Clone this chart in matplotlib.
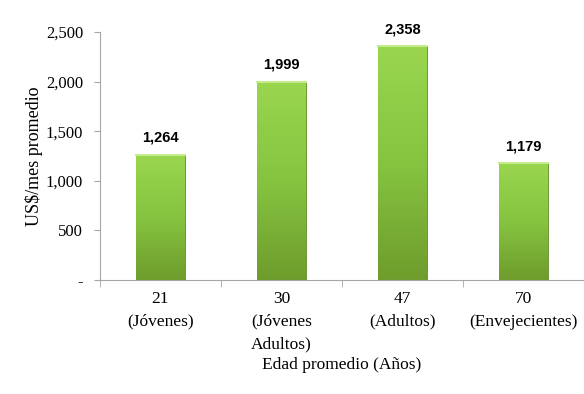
import matplotlib

matplotlib.use("Agg")
import matplotlib.pyplot as plt
import numpy as np
from matplotlib.colors import LinearSegmentedColormap

# Datos
categorias = ["21\n(Jóvenes)", "30\n(Jóvenes\nAdultos)", "47\n(Adultos)", "70\n(Envejecientes)"]
valores = [1264, 1999, 2358, 1179]
yticks = [0, 500, 1000, 1500, 2000, 2500]
ytick_labels = ["-", "500", "1,000", "1,500", "2,000", "2,500"]

SERIF = "Liberation Serif"
GRIS = "#a6a6a6"

fig = plt.figure(figsize=(5.84, 3.94), dpi=100)
ax = fig.add_axes([0.171, 0.289, 0.829, 0.630])

x = np.arange(len(valores))
bars = ax.bar(x, valores, width=0.4, color="#86c440", edgecolor="#5f8a25", linewidth=0.6, zorder=2)

# degradado vertical dentro de cada barra
cmap = LinearSegmentedColormap.from_list("verde", ["#6e9c2c", "#86c440", "#9ad64e"])
grad = np.linspace(0, 1, 256).reshape(-1, 1)
for b in bars:
    x0, w, h = b.get_x(), b.get_width(), b.get_height()
    im = ax.imshow(grad, cmap=cmap, aspect="auto", origin="lower",
                   extent=(x0, x0 + w, 0, h), zorder=2)
    im.set_clip_path(b)
    # borde claro arriba (bisel)
    ax.plot([x0, x0 + w], [h, h], color="#c4ec8c", lw=1.5, zorder=3)

for xi, v in zip(x, valores):
    ax.text(xi, v + 100, f"{v:,}", ha="center", va="bottom",
            fontsize=10.5, fontweight="bold", family="Liberation Sans")

ax.set_xlim(-0.5, len(valores) - 0.5)
ax.set_ylim(0, 2500)
ax.set_yticks(yticks)
ax.set_yticklabels(ytick_labels, family=SERIF, fontsize=12)
ax.set_xticks(x)
ax.set_xticklabels(categorias, family=SERIF, fontsize=12.5, linespacing=1.55)
ax.tick_params(axis="x", length=0, pad=8)
ax.tick_params(axis="y", length=4, color=GRIS, pad=8)

# marcas entre categorías
ax.set_xticks(np.arange(-0.5, len(valores), 1), minor=True)
ax.tick_params(axis="x", which="minor", length=5, color=GRIS)

for s in ["top", "right"]:
    ax.spines[s].set_visible(False)
for s in ["left", "bottom"]:
    ax.spines[s].set_color(GRIS)

ax.set_ylabel("US$/mes promedio", family=SERIF, fontsize=13, labelpad=2)
ax.set_xlabel("Edad promedio (Años)", family=SERIF, fontsize=12.5, labelpad=3)

fig.savefig("out.png", dpi=100)
